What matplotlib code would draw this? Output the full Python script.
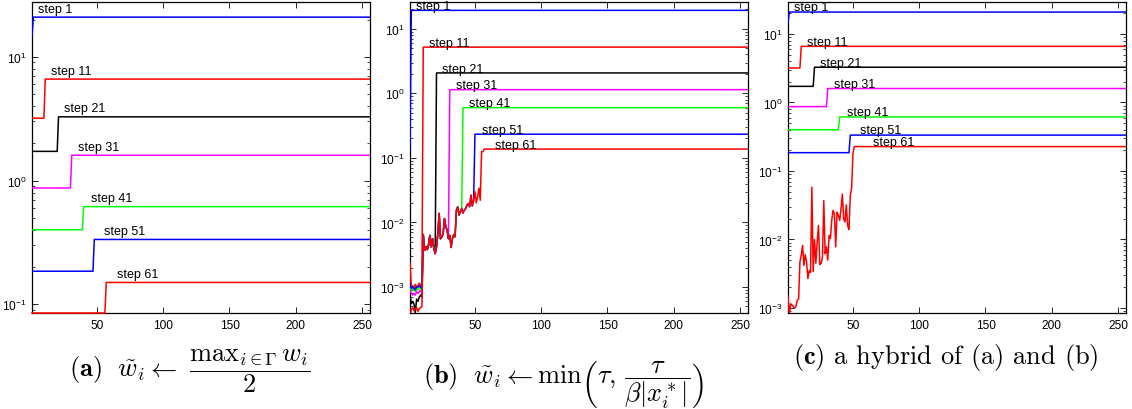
import numpy as np
import matplotlib
matplotlib.use("Agg")
import matplotlib.pyplot as plt
from matplotlib.ticker import LogLocator, NullFormatter

plt.rcParams['font.family'] = ['Liberation Sans', 'DejaVu Sans']
plt.rcParams['mathtext.fontset'] = 'cm'

N = 256
X = np.arange(1, N + 1)
STEPS = [1, 11, 21, 31, 41, 51, 61]
COLORS = ['#0000ff', '#ff0000', '#000000', '#ff00ff', '#00ff00', '#0000ff', '#ff0000']

# ---- panel (a): plateau levels before / after the jump, and first index at the new level
A_LOW = [14.6, 3.19, 1.72, 0.87, 0.40, 0.185, 0.085]
A_HIGH = [20.9, 6.6, 3.27, 1.6, 0.615, 0.334, 0.15]
A_JUMP = [2, 11, 21, 31, 40, 48, 57]

# ---- panel (b)
B_HIGH = [19.3, 5.2, 2.07, 1.14, 0.60, 0.233, 0.137]
B_JUMP = [2, 11, 21, 31, 41, 50, 57]
B_EARLY = [  # values for x = 1..10, one row per curve
    [0.128],
    [2.4e-3, 1.0e-3, 1.05e-3, 0.95e-3, 1.1e-3, 1.0e-3, 1.05e-3, 1.15e-3, 1.0e-3, 1.2e-3],
    [8e-4, 5.5e-4, 6e-4, 5.5e-4, 4e-4, 6.5e-4, 6e-4, 7e-4, 7.5e-4, 7e-4],
    [9e-4, 8e-4, 7.5e-4, 8e-4, 7.5e-4, 8.5e-4, 8e-4, 8.5e-4, 9e-4, 8e-4],
    [1e-3, 9e-4, 9.5e-4, 9e-4, 8.5e-4, 9.5e-4, 9e-4, 1e-3, 9.5e-4, 9e-4],
    [1.1e-3, 9.5e-4, 1e-3, 9.5e-4, 9e-4, 1e-3, 1.0e-3, 1.05e-3, 1.0e-3, 9.5e-4],
    [3.5e-4, 4.5e-4, 4.8e-4, 4.3e-4, 4.5e-4, 4.8e-4, 4.2e-4, 4.6e-4, 4.8e-4, 5e-4],
]
# shared noisy values for x = 11..56
B_NOISE = [6.5e-3, 3.7e-3, 4.2e-3, 3.8e-3, 4.5e-3, 6.3e-3, 4.2e-3, 5.6e-3, 4.0e-3, 3.3e-3,
           4.2e-3, 6.7e-3, 1.38e-2, 5.6e-3, 6.0e-3, 6.7e-3, 1.15e-2, 8.5e-3, 7.6e-3, 5.6e-3,
           6.3e-3, 4.1e-3, 5.6e-3, 6.5e-3, 6.0e-3, 1.55e-2, 1.75e-2, 1.3e-2, 1.47e-2, 1.65e-2,
           1.4e-2, 1.55e-2, 1.65e-2, 1.86e-2, 1.97e-2, 1.75e-2, 2.65e-2, 1.8e-2, 2.2e-2, 3.0e-2,
           2.0e-2, 2.5e-2, 3.4e-2, 2.2e-2, 0.125, 0.125]

# ---- panel (c)
C_HIGH = [20.9, 6.6, 3.27, 1.6, 0.615, 0.334, 0.227]
C_JUMP = [2, 11, 21, 31, 40, 48, 51]
C_NOISE61 = [1.5e-3, 8e-4, 1.15e-3, 1.1e-3, 1.05e-3, 1.0e-3, 1.05e-3, 1.3e-3, 1.35e-3, 4.7e-3,
             5.9e-3, 8.2e-3, 4.2e-3, 6.0e-3, 4.7e-3, 2.7e-3, 3.5e-3, 3.3e-3, 5.8e-2, 3.4e-3,
             1.0e-2, 4.5e-3, 9e-3, 1.6e-2, 4.3e-3, 4.5e-3, 5.5e-3, 3.7e-2, 6.2e-3, 7.8e-3,
             5.0e-3, 1.15e-2, 1.03e-2, 1.9e-2, 2.66e-2, 2.37e-2, 7.8e-3, 2.5e-2, 2.25e-2, 1.9e-2,
             2.8e-2, 4.6e-2, 2.0e-2, 1.8e-2, 3.2e-2, 1.6e-2, 1.4e-2, 4.4e-2, 5.6e-2, 0.18]

YLIMS = [(0.085, 27.7), (3.96e-4, 26.0), (8.45e-4, 29.3)]
CAPTIONS = [
    r'$\mathbf{(a)}\ \ \tilde{w}_i \leftarrow \ \dfrac{\mathrm{max}_{i\in\Gamma}\, w_i}{2}$',
    r'$\mathbf{(b)}\ \ \tilde{w}_i \leftarrow \mathrm{min}\left(\tau,\, \dfrac{\tau}{\beta|x_i^*|}\right)$',
    r'$\mathbf{(c)}$ a hybrid of (a) and (b)',
]


def curve(pre, high):
    return np.array(list(pre) + [high] * (N - len(pre)))


curves_a = [curve([lo] * (j - 1), hi) for lo, hi, j in zip(A_LOW, A_HIGH, A_JUMP)]

curves_b = []
for k, (hi, j) in enumerate(zip(B_HIGH, B_JUMP)):
    pre = list(B_EARLY[k])
    if j > len(pre) + 1:
        pre = pre + B_NOISE[:j - 1 - len(pre)]
    curves_b.append(curve(pre, hi))

curves_c = [curve([lo] * (j - 1), hi) for lo, hi, j in zip(A_LOW[:6], C_HIGH[:6], C_JUMP[:6])]
curves_c.append(curve(C_NOISE61, C_HIGH[6]))

W, H = 1132, 410
fig = plt.figure(figsize=(W / 100, H / 100), dpi=100)

ax_px = [(32, 370), (410, 748), (788, 1126)]
top_px, bot_px = 3, 314
axes = []
for (l, r) in ax_px:
    ax = fig.add_axes([l / W, (H - bot_px) / H, (r - l) / W, (bot_px - top_px) / H])
    axes.append(ax)

for ax, curves, highs, ylim in zip(axes, [curves_a, curves_b, curves_c],
                                   [A_HIGH, B_HIGH, C_HIGH], YLIMS):
    for k, (y, c) in enumerate(zip(curves, COLORS)):
        ax.plot(X, y, color=c, lw=1.1, zorder=3, clip_on=(ax is not axes[0] or k != 6))
    for k, s in enumerate(STEPS):
        ax.text(s + 4.5, highs[k] * 1.17, 'step %d' % s, fontsize=9, va='center', ha='left',
                zorder=4)
    ax.set_yscale('log')
    ax.set_xlim(1, N)
    ax.set_ylim(*ylim)
    ax.set_xticks([50, 100, 150, 200, 250])
    ax.yaxis.set_major_locator(LogLocator(base=10, numticks=10))
    ax.yaxis.set_minor_locator(LogLocator(base=10, subs=np.arange(2, 10), numticks=20))
    ax.yaxis.set_minor_formatter(NullFormatter())
    ax.tick_params(which='both', direction='in', top=True, right=True, labelsize=8.6, pad=4)
    ax.tick_params(which='major', length=4, width=0.6)
    ax.tick_params(which='minor', length=2, width=0.5)
    for sp in ax.spines.values():
        sp.set_linewidth(0.9)

cap_pos = [(190, 371), (563, 384), (946, 358)]
for (cx, cy), cap in zip(cap_pos, CAPTIONS):
    fig.text(cx / W, (H - cy) / H, cap, ha='center', va='center', fontsize=19,
             family='cmr10')

fig.savefig('out.png', dpi=100)
